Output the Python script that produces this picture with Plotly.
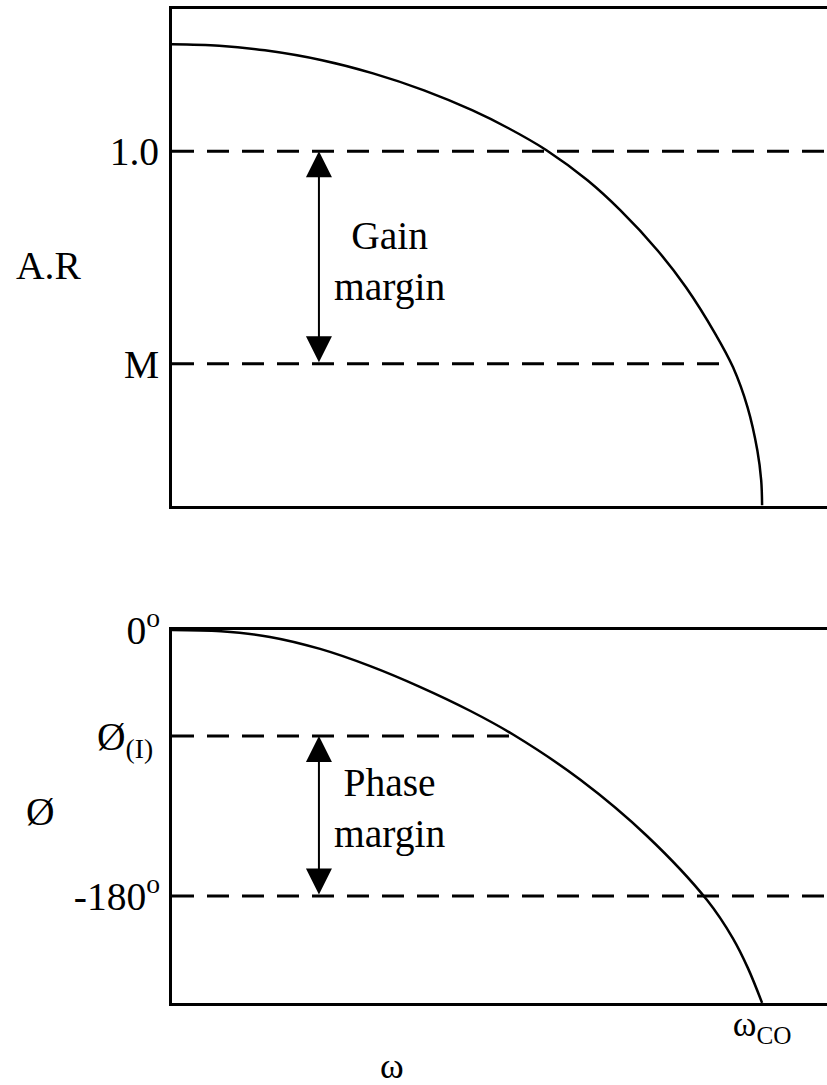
import plotly.graph_objects as go

# Frequency axis: omega normalised so that the crossover frequency is 1
OMEGA_MAX = 1.11

# Amplitude-ratio curve (top panel)
ar_omega = [0.0, 0.080, 0.1575, 0.2542, 0.3407, 0.4271, 0.5085, 0.5703, 0.6346,
            0.7041, 0.7600, 0.8229, 0.8710, 0.9202, 0.9508, 0.9754, 0.9920,
            0.9985, 1.0]
ar_value = [1.302, 1.298, 1.285, 1.257, 1.220, 1.172, 1.116, 1.065, 1.003,
            0.918, 0.833, 0.720, 0.616, 0.486, 0.390, 0.277, 0.155,
            0.071, 0.0]

# Phase curve (bottom panel), degrees
ph_omega = [0.0, 0.083, 0.166, 0.251, 0.336, 0.420, 0.505, 0.578, 0.692, 0.805,
            0.907, 0.951, 0.976, 1.0]
ph_value = [0.0, -0.88, -4.67, -12.79, -24.43, -38.44, -54.61, -70.71, -101.30,
            -139.33, -182.84, -208.89, -228.7, -252.2]

# Reference levels
AR_ONE = 1.0
AR_M = 0.40
PH_I = -71.7
PH_180 = -180.0
AR_TOP = 1.403
PH_BOTTOM = -252.3

# Extent of the dashed guide lines along omega
ar_one_span = [0.0, OMEGA_MAX]
ar_m_span = [0.0, 0.937]
ph_i_span = [0.0, 0.58]
ph_180_span = [0.0, OMEGA_MAX]

# Double-headed margin arrows (omega position)
ARROW_OMEGA = 0.249

tick_ar_vals = [AR_ONE, AR_M]
tick_ar_text = ["1.0", "M"]
tick_ph_vals = [0.0, PH_I, PH_180]
tick_ph_text = ["0<sup>o</sup>", "Ø<sub>(I)\u00a0</sub>", "-180<sup>o</sup>"]

FONT = "Liberation Serif, Times New Roman, serif"
FS = 39.5
DASH = "22px,13px"

fig = go.Figure()

# curves
for xs, ys, xa, ya in [(ar_omega, ar_value, "x", "y"), (ph_omega, ph_value, "x2", "y2")]:
    fig.add_trace(go.Scatter(x=xs, y=ys, mode="lines",
                             line=dict(color="black", width=2.5, shape="spline", smoothing=1.0),
                             xaxis=xa, yaxis=ya, showlegend=False, hoverinfo="skip"))

# dashed reference levels
for span, level, xa, ya in [(ar_one_span, AR_ONE, "x", "y"),
                            (ar_m_span, AR_M, "x", "y"),
                            (ph_i_span, PH_I, "x2", "y2"),
                            (ph_180_span, PH_180, "x2", "y2")]:
    fig.add_trace(go.Scatter(x=span, y=[level, level], mode="lines",
                             line=dict(color="black", width=3, dash=DASH),
                             xaxis=xa, yaxis=ya, showlegend=False, hoverinfo="skip"))

axis_common = dict(showgrid=False, zeroline=False, showline=True, linecolor="black",
                   linewidth=3, ticks="", fixedrange=True, automargin=False)

fig.update_layout(
    template="none",
    width=827, height=1085,
    margin=dict(l=0, r=0, t=0, b=0, pad=0, autoexpand=False),
    paper_bgcolor="white", plot_bgcolor="white",
    font=dict(family=FONT, color="black", size=FS),
    xaxis=dict(domain=[172 / 827, 1.0], range=[0, OMEGA_MAX], anchor="y",
               mirror=True, showticklabels=False, **axis_common),
    yaxis=dict(domain=[1 - 505.5 / 1085, 1 - 8.5 / 1085], range=[0, AR_TOP], anchor="x",
               tickvals=tick_ar_vals, ticktext=tick_ar_text, ticklabelstandoff=2,
               tickfont=dict(family=FONT, size=FS, color="black"), **axis_common),
    xaxis2=dict(domain=[172 / 827, 1.0], range=[0, OMEGA_MAX], anchor="y2",
                mirror=True, tickvals=[1.0], ticktext=["ω<sub>CO</sub>"],
                ticklabelstandoff=-13,
                tickfont=dict(family=FONT, size=36, color="black"), **axis_common),
    yaxis2=dict(domain=[1 - 1003 / 1085, 1 - 630 / 1085], range=[PH_BOTTOM, 0], anchor="x2",
                tickvals=tick_ph_vals, ticktext=tick_ph_text, ticklabelstandoff=1,
                tickfont=dict(family=FONT, size=FS, color="black"), **axis_common),
)

# margin arrows
for lo, hi, xa, ya in [(AR_M, AR_ONE, "x", "y"), (PH_180, PH_I, "x2", "y2")]:
    fig.add_annotation(x=ARROW_OMEGA, y=hi, ax=ARROW_OMEGA, ay=lo,
                       xref=xa, yref=ya, axref=xa, ayref=ya, text="",
                       showarrow=True, arrowhead=2, startarrowhead=2,
                       arrowside="end+start", arrowwidth=2, arrowsize=2.6,
                       startarrowsize=2.6, arrowcolor="black", standoff=0, startstandoff=0)

# margin captions
fig.add_annotation(x=0.368, y=0.689, xref="x", yref="y",
                   text="Gain<br>margin", showarrow=False, align="center",
                   xanchor="center", yanchor="middle",
                   font=dict(family=FONT, size=FS, color="black"))
fig.add_annotation(x=0.368, y=-121.0, xref="x2", yref="y2",
                   text="Phase<br>margin", showarrow=False, align="center",
                   xanchor="center", yanchor="middle",
                   font=dict(family=FONT, size=FS, color="black"))

# axis names
fig.add_annotation(x=48 / 827, y=1 - 266 / 1085, xref="paper", yref="paper",
                   xanchor="center", yanchor="middle",
                   text="A.R", showarrow=False, font=dict(family=FONT, size=FS, color="black"))
fig.add_annotation(x=40 / 827, y=1 - 812 / 1085, xref="paper", yref="paper",
                   xanchor="center", yanchor="middle",
                   text="Ø", showarrow=False, font=dict(family=FONT, size=FS, color="black"))
fig.add_annotation(x=0.373, y=1 - 1066 / 1085, xref="x2", yref="paper",
                   xanchor="center", yanchor="middle",
                   text="ω", showarrow=False, font=dict(family=FONT, size=36, color="black"))

fig.write_html("out.html")
